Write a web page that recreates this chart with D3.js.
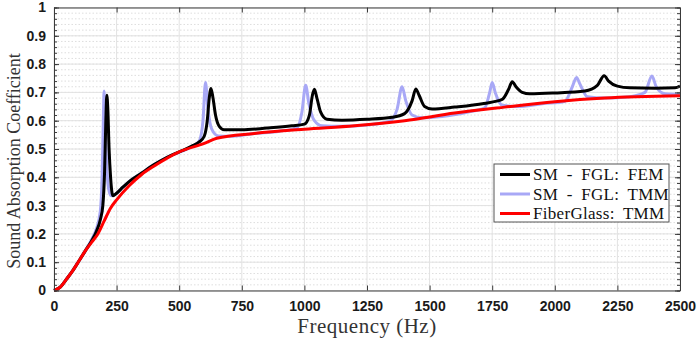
<!DOCTYPE html>
<html>
<head>
<meta charset="utf-8">
<script src="https://cdn.jsdelivr.net/npm/d3@7"></script>
<style>
  body { margin: 0; background: #fff; }
  svg { display: block; }
</style>
</head>
<body>
<div id="my_dataviz"></div>
<script>
// data (frequency in Hz, absorption coefficient)
var femFreq = [0, 25, 50, 75, 100, 125, 150, 170, 185, 195, 202, 207, 211, 215, 220, 226, 235, 245, 275, 300, 350, 400, 450, 500, 550, 580, 600, 612, 620, 627, 635, 645, 660, 680, 750, 850, 950, 1000, 1020, 1032, 1040, 1050, 1065, 1090, 1150, 1250, 1350, 1400, 1430, 1445, 1458, 1480, 1510, 1600, 1717, 1790, 1815, 1830, 1845, 1870, 1900, 2000, 2120, 2170, 2197, 2215, 2250, 2300, 2400, 2480, 2500];
var femVal  = [0, 0.012, 0.04, 0.07, 0.105, 0.14, 0.175, 0.21, 0.25, 0.3, 0.42, 0.6, 0.69, 0.64, 0.5, 0.4, 0.335, 0.34, 0.365, 0.385, 0.415, 0.445, 0.47, 0.49, 0.51, 0.525, 0.545, 0.6, 0.68, 0.714, 0.68, 0.62, 0.58, 0.568, 0.568, 0.574, 0.582, 0.588, 0.62, 0.69, 0.711, 0.68, 0.63, 0.605, 0.602, 0.605, 0.612, 0.625, 0.67, 0.712, 0.69, 0.65, 0.641, 0.648, 0.661, 0.675, 0.71, 0.738, 0.72, 0.7, 0.695, 0.698, 0.705, 0.725, 0.759, 0.74, 0.722, 0.716, 0.715, 0.716, 0.722];

var tmmFreq = [0, 25, 50, 75, 100, 125, 150, 170, 185, 192, 197, 200, 204, 210, 218, 228, 245, 275, 300, 350, 400, 450, 500, 550, 580, 595, 605, 615, 630, 656, 700, 800, 900, 970, 990, 1005, 1018, 1040, 1070, 1150, 1250, 1340, 1370, 1390, 1405, 1430, 1470, 1550, 1650, 1720, 1740, 1750, 1762, 1790, 1850, 1950, 2040, 2070, 2087, 2100, 2130, 2200, 2300, 2360, 2388, 2405, 2440, 2500];
var tmmVal  = [0, 0.012, 0.04, 0.07, 0.105, 0.14, 0.18, 0.22, 0.28, 0.4, 0.6, 0.705, 0.6, 0.45, 0.36, 0.335, 0.34, 0.365, 0.385, 0.415, 0.445, 0.47, 0.488, 0.508, 0.528, 0.6, 0.735, 0.64, 0.57, 0.546, 0.545, 0.555, 0.563, 0.575, 0.63, 0.725, 0.66, 0.6, 0.582, 0.58, 0.585, 0.598, 0.64, 0.72, 0.67, 0.62, 0.61, 0.615, 0.63, 0.645, 0.7, 0.735, 0.7, 0.655, 0.65, 0.66, 0.668, 0.72, 0.753, 0.73, 0.685, 0.68, 0.685, 0.7, 0.758, 0.72, 0.695, 0.693];

var fgFreq = [0, 25, 50, 75, 100, 125, 150, 175, 200, 225, 250, 300, 350, 400, 500, 600, 650, 800, 1000, 1200, 1400, 1600, 1800, 2000, 2200, 2500];
var fgVal  = [0, 0.012, 0.04, 0.07, 0.105, 0.14, 0.17, 0.2, 0.245, 0.29, 0.32, 0.37, 0.41, 0.44, 0.49, 0.52, 0.538, 0.555, 0.57, 0.582, 0.6, 0.627, 0.648, 0.667, 0.68, 0.688];

var seriesNames = ["SM - FGL: FEM", "SM - FGL: TMM", "FiberGlass: TMM"];
var seriesColors = ["#000000", "#a8a8f6", "#ff0000"];

var xTicks = [0, 250, 500, 750, 1000, 1250, 1500, 1750, 2000, 2250, 2500];
var yTicks = [0, 0.1, 0.2, 0.3, 0.4, 0.5, 0.6, 0.7, 0.8, 0.9, 1];

var serif = "'Liberation Serif'";
var sans = "'Liberation Sans'";

// set the dimensions and margins of the graph
var margin = {top: 7.5, right: 19, bottom: 49.5, left: 54},
    width = 699 - margin.left - margin.right,
    height = 340 - margin.top - margin.bottom;

var svg = d3.select("#my_dataviz")
    .append("svg")
    .attr("width", 699)
    .attr("height", 340)
    .append("g")
    .attr("transform", "translate(" + margin.left + "," + margin.top + ")");

var x = d3.scaleLinear().domain([0, 2500]).range([0, width]);
var y = d3.scaleLinear().domain([0, 1]).range([height, 0]);

// minor horizontal grid (dotted, every 0.02)
var minorY = d3.range(0, 1.0001, 0.02);
svg.append("g")
    .selectAll("line")
    .data(minorY)
    .enter()
    .append("line")
    .attr("x1", 0).attr("x2", width)
    .attr("y1", function(d) { return y(d); })
    .attr("y2", function(d) { return y(d); })
    .attr("stroke", "#d6d6d6")
    .attr("stroke-width", 0.8)
    .attr("stroke-dasharray", "1.5,2");

// major grid
svg.append("g")
    .selectAll("line")
    .data(yTicks)
    .enter()
    .append("line")
    .attr("x1", 0).attr("x2", width)
    .attr("y1", function(d) { return y(d); })
    .attr("y2", function(d) { return y(d); })
    .attr("stroke", "#e2e2e2")
    .attr("stroke-width", 1);
svg.append("g")
    .selectAll("line")
    .data(xTicks)
    .enter()
    .append("line")
    .attr("y1", 0).attr("y2", height)
    .attr("x1", function(d) { return x(d); })
    .attr("x2", function(d) { return x(d); })
    .attr("stroke", "#e2e2e2")
    .attr("stroke-width", 1);

// lines
var line = d3.line()
    .x(function(d) { return x(d[0]); })
    .y(function(d) { return y(d[1]); })
    .curve(d3.curveMonotoneX);

var femData = d3.zip(femFreq, femVal);
var tmmData = d3.zip(tmmFreq, tmmVal);
var fgData = d3.zip(fgFreq, fgVal);

svg.append("path").datum(tmmData)
    .attr("d", line).attr("fill", "none")
    .attr("stroke", seriesColors[1]).attr("stroke-width", 3)
    .attr("stroke-linejoin", "round");
svg.append("path").datum(femData)
    .attr("d", line).attr("fill", "none")
    .attr("stroke", seriesColors[0]).attr("stroke-width", 3)
    .attr("stroke-linejoin", "round");
svg.append("path").datum(fgData)
    .attr("d", line).attr("fill", "none")
    .attr("stroke", seriesColors[2]).attr("stroke-width", 3)
    .attr("stroke-linejoin", "round");

// axes with inward ticks
var axisColor = "#3a3a3a";
function styleAxis(g) {
    g.select(".domain").attr("stroke", axisColor);
    g.selectAll(".tick line").attr("stroke", axisColor);
}
function styleLabels(sel) {
    sel.style("font-family", sans)
        .style("font-weight", "bold")
        .style("font-size", "14px")
        .attr("fill", "#1a1a1a");
}

svg.append("g")
    .attr("transform", "translate(0," + height + ")")
    .call(d3.axisBottom(x).tickValues(xTicks).tickSizeInner(-5).tickSizeOuter(0).tickPadding(11)
        .tickFormat(d3.format("d")))
    .call(styleAxis)
    .selectAll("text")
        .call(styleLabels);

svg.append("g")
    .call(d3.axisTop(x).tickValues(xTicks).tickSizeInner(-5).tickSizeOuter(0).tickFormat(""))
    .call(styleAxis);

svg.append("g")
    .call(d3.axisLeft(y).tickValues(yTicks).tickSizeInner(-5).tickSizeOuter(0).tickPadding(8)
        .tickFormat(function(d) { return d === 0 || d === 1 ? d3.format("d")(d) : d3.format(".1f")(d); }))
    .call(styleAxis)
    .selectAll("text")
        .call(styleLabels);

svg.append("g")
    .call(d3.axisLeft(y).tickValues(minorY).tickSizeInner(-3).tickSizeOuter(0).tickFormat(""))
    .call(styleAxis);

svg.append("g")
    .attr("transform", "translate(" + width + ",0)")
    .call(d3.axisRight(y).tickValues(yTicks).tickSizeInner(-5).tickSizeOuter(0).tickFormat(""))
    .call(styleAxis);
svg.append("g")
    .attr("transform", "translate(" + width + ",0)")
    .call(d3.axisRight(y).tickValues(minorY).tickSizeInner(-3).tickSizeOuter(0).tickFormat(""))
    .call(styleAxis);

// axis titles
svg.append("text")
    .attr("x", width / 2)
    .attr("y", height + 42)
    .attr("text-anchor", "middle")
    .style("font-family", serif)
    .style("font-size", "21px")
    .style("letter-spacing", "0.5px")
    .attr("fill", "#333")
    .text("Frequency (Hz)");

svg.append("text")
    .attr("transform", "translate(" + (-34) + "," + (height / 2 + 12) + ")rotate(-90)")
    .attr("text-anchor", "middle")
    .style("font-family", serif)
    .style("font-size", "18px")
    .attr("fill", "#333")
    .text("Sound Absorption Coefficient");

// legend
var legend = svg.append("g")
    .attr("transform", "translate(" + (494 - margin.left) + "," + (164 - margin.top) + ")");
legend.append("rect")
    .attr("width", 175).attr("height", 58)
    .attr("fill", "#fff")
    .attr("stroke", "#555")
    .attr("stroke-width", 1);
seriesNames.forEach(function(name, i) {
    var ly = 10.5 + i * 19.5;
    legend.append("line")
        .attr("x1", 6).attr("x2", 36)
        .attr("y1", ly).attr("y2", ly)
        .attr("stroke", seriesColors[i])
        .attr("stroke-width", 3);
    legend.append("text")
        .attr("x", 39).attr("y", ly + 5.5)
        .style("font-family", serif)
        .style("font-size", "17px")
        .style("word-spacing", "4px")
        .style("letter-spacing", "0.3px")
        .attr("fill", "#111")
        .text(name);
});
</script>
</body>
</html>
